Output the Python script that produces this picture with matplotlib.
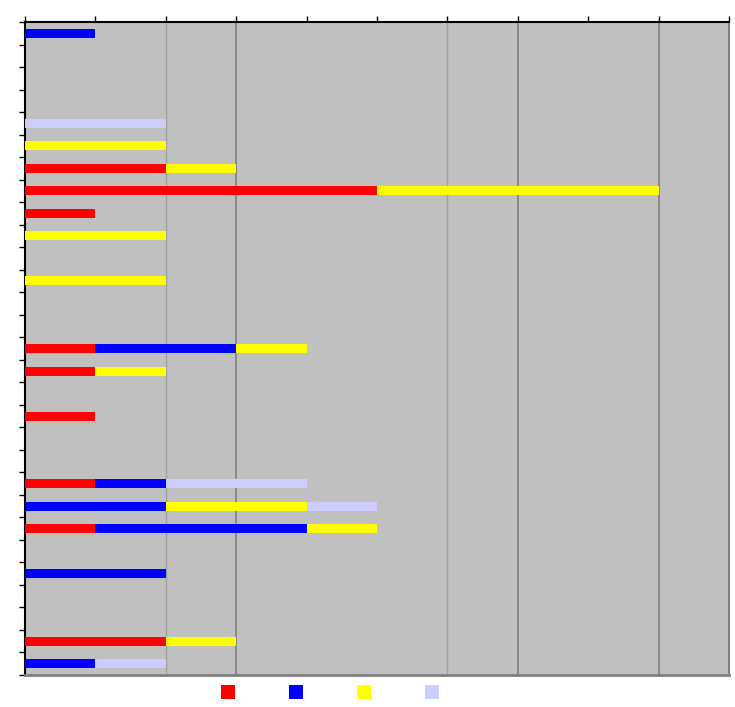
import matplotlib
matplotlib.use("Agg")
import matplotlib.pyplot as plt
from matplotlib.lines import Line2D
import numpy as np

# 29 categories, top to bottom; four stacked series
n_rows = 29
red      = [0,0,0,0,0,0,2,5,1,0,0,0,0,0,1,1,0,1,0,0,1,0,1,0,0,0,0,2,0]
blue     = [1,0,0,0,0,0,0,0,0,0,0,0,0,0,2,0,0,0,0,0,1,2,3,0,2,0,0,0,1]
yellow   = [0,0,0,0,0,2,1,4,0,2,0,2,0,0,1,1,0,0,0,0,0,2,1,0,0,0,0,1,0]
lavender = [0,0,0,0,2,0,0,0,0,0,0,0,0,0,0,0,0,0,0,0,2,1,0,0,0,0,0,0,1]

series = [red, blue, yellow, lavender]
colors = ["#FF0000", "#0000FF", "#FFFF00", "#CCCCFF"]
labels = ["", "", "", ""]

x_max = 10
grid_light = [2, 6]
grid_dark = [3, 7, 9]

fig = plt.figure(figsize=(7.35, 7.07), dpi=100)
ax = fig.add_axes([25/735, 1-675/707, 704/735, 653/707])
ax.set_facecolor("#C0C0C0")

for g in grid_light:
    ax.axvline(g, color="#A0A0A0", lw=1.0, zorder=1)
for g in grid_dark:
    ax.axvline(g, color="#808080", lw=1.2, zorder=1)

y = np.arange(n_rows)
left = np.zeros(n_rows)
for vals, c in zip(series, colors):
    v = np.array(vals, dtype=float)
    ax.barh(y, v, left=left, height=0.4, color=c, zorder=3, linewidth=0)
    left += v

ax.set_xlim(0, x_max)
ax.set_ylim(n_rows - 0.5, -0.5)

ax.xaxis.tick_top()
ax.set_xticks(np.arange(0, x_max + 1, 1))
ax.set_xticklabels([])
ax.set_yticks(np.arange(n_rows + 1) - 0.5)
ax.set_yticklabels([])
ax.tick_params(axis="x", direction="out", length=4, width=1, color="black")
ax.tick_params(axis="y", direction="out", length=4, width=1, color="black")

ax.spines["top"].set_color("black")
ax.spines["top"].set_linewidth(1.5)
ax.spines["left"].set_color("black")
ax.spines["left"].set_linewidth(1.5)
ax.spines["bottom"].set_color("#808080")
ax.spines["bottom"].set_linewidth(2)
ax.spines["right"].set_color("#808080")
ax.spines["right"].set_linewidth(1.5)

handles = [Line2D([], [], marker="s", linestyle="none", markersize=9.5,
                  markerfacecolor=c, markeredgewidth=0) for c in colors]
fig.legend(handles, labels, loc="center", bbox_to_anchor=(330/735, 1-693/707),
           ncol=4, frameon=False, fontsize=10, handlelength=1.0,
           handletextpad=0.0, columnspacing=3.9, borderpad=0)

fig.savefig("out.png", dpi=100, facecolor="white")
